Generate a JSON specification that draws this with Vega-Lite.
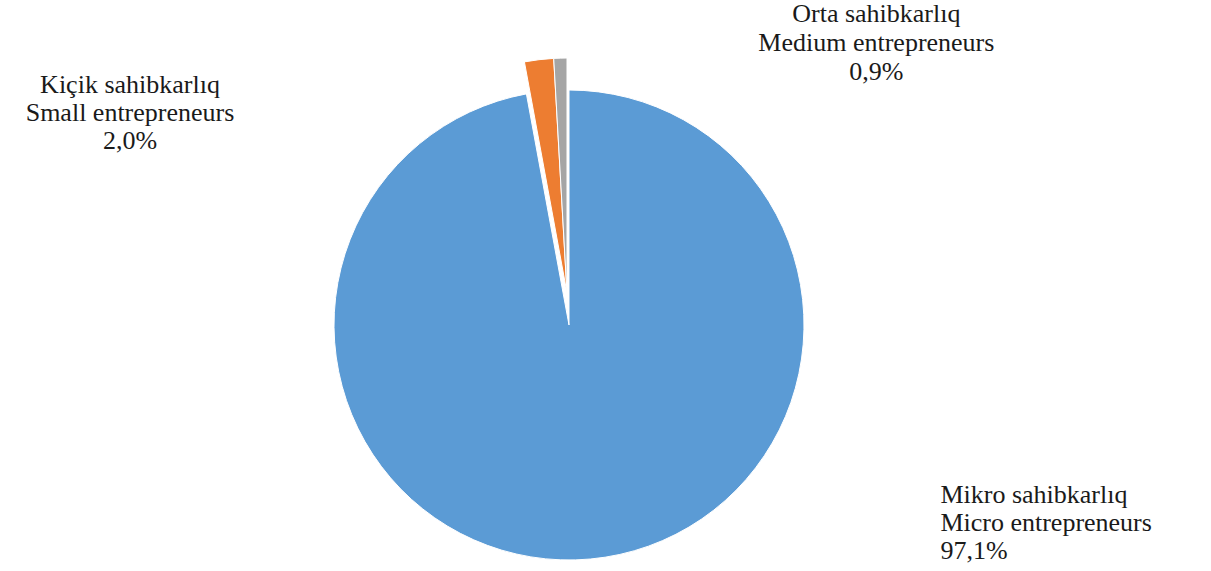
{
  "$schema": "https://vega.github.io/schema/vega-lite/v6.json",
  "width": 1138,
  "height": 492,
  "autosize": "none",
  "padding": {"left": 0, "top": 79, "right": 73, "bottom": 0},
  "background": "white",
  "config": {"view": {"stroke": null}},
  "data": {
    "values": [
      {"cat": "Micro", "order": 1, "value": 97.1, "label": "Mikro sahibkarlıq\nMicro entrepreneurs\n97,1%"},
      {"cat": "Small", "order": 2, "value": 2.0, "label": "Kiçik sahibkarlıq\nSmall entrepreneurs\n2,0%"},
      {"cat": "Medium", "order": 3, "value": 0.9, "label": "Orta sahibkarlıq\nMedium entrepreneurs\n0,9%"}
    ]
  },
  "layer": [
    {
      "transform": [
        {"stack": "value", "groupby": [], "sort": [{"field": "order", "order": "ascending"}], "as": ["v0", "v1"]},
        {"filter": "datum.cat === 'Micro'"}
      ],
      "mark": {"type": "arc", "outerRadius": 235, "stroke": "white", "strokeWidth": 1},
      "encoding": {
        "theta": {"field": "v0", "type": "quantitative", "scale": {"domain": [0, 100]}},
        "theta2": {"field": "v1"},
        "color": {"field": "cat", "type": "nominal", "scale": {"domain": ["Micro", "Small", "Medium"], "range": ["#5B9BD5", "#ED7D31", "#A5A5A5"]}, "legend": null}
      }
    },
    {
      "transform": [
        {"stack": "value", "groupby": [], "sort": [{"field": "order", "order": "ascending"}], "as": ["v0", "v1"]},
        {"filter": "datum.cat !== 'Micro'"}
      ],
      "mark": {"type": "arc", "outerRadius": 235, "stroke": "white", "strokeWidth": 1, "yOffset": -32, "xOffset": -2},
      "encoding": {
        "theta": {"field": "v0", "type": "quantitative", "scale": {"domain": [0, 100]}},
        "theta2": {"field": "v1"},
        "color": {"field": "cat", "type": "nominal", "legend": null}
      }
    },
    {
      "mark": {"type": "text", "radius": 235, "align": "left", "baseline": "middle", "dx": 350, "dy": -64, "font": "Liberation Serif", "fontSize": 26, "lineHeight": 28, "lineBreak": "\n", "color": "#1a1a1a"},
      "encoding": {
        "theta": {"field": "value", "type": "quantitative", "stack": true, "scale": {"domain": [0, 100]}},
        "order": {"field": "order", "type": "quantitative"},
        "detail": {"field": "cat"},
        "text": {"condition": {"test": "datum.cat === 'Micro'", "field": "label"}, "value": ""}
      }
    },
    {
      "mark": {"type": "text", "radius": 235, "align": "center", "baseline": "middle", "dx": -411, "dy": -7, "font": "Liberation Serif", "fontSize": 26, "lineHeight": 28, "lineBreak": "\n", "color": "#1a1a1a"},
      "encoding": {
        "theta": {"field": "value", "type": "quantitative", "stack": true, "scale": {"domain": [0, 100]}},
        "order": {"field": "order", "type": "quantitative"},
        "detail": {"field": "cat"},
        "text": {"condition": {"test": "datum.cat === 'Small'", "field": "label"}, "value": ""}
      }
    },
    {
      "mark": {"type": "text", "radius": 235, "align": "center", "baseline": "middle", "dx": 314, "dy": -76, "font": "Liberation Serif", "fontSize": 26, "lineHeight": 29, "lineBreak": "\n", "color": "#1a1a1a"},
      "encoding": {
        "theta": {"field": "value", "type": "quantitative", "stack": true, "scale": {"domain": [0, 100]}},
        "order": {"field": "order", "type": "quantitative"},
        "detail": {"field": "cat"},
        "text": {"condition": {"test": "datum.cat === 'Medium'", "field": "label"}, "value": ""}
      }
    }
  ]
}
